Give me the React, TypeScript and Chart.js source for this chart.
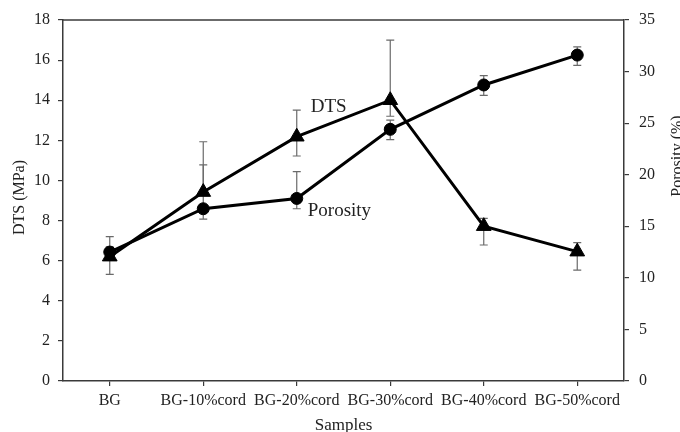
import React, { useEffect, useRef } from 'react';
import { Chart, registerables } from 'chart.js';
Chart.register(...registerables);

const categories = ['BG', 'BG-10%cord', 'BG-20%cord', 'BG-30%cord', 'BG-40%cord', 'BG-50%cord'];
const dtsValues = [6.2, 9.42, 12.18, 14.0, 7.72, 6.45];
const dtsLow = [5.32, 9.25, 11.22, 13.2, 6.78, 5.53];
const dtsHigh = [7.2, 11.93, 13.51, 17.0, 8.11, 6.9];
const porosityValues = [12.5, 16.7, 17.7, 24.4, 28.7, 31.6];
const porosityLow = [12.0, 15.7, 16.7, 23.4, 27.7, 30.6];
const porosityHigh = [13.0, 20.95, 20.3, 25.3, 29.6, 32.4];

const FONT = '"Liberation Serif", "Times New Roman", serif';
const AXIS = '#3a3a3a';
const TEXT = '#222222';
const ERR = '#6a6a6a';

export default function App() {
  const ref = useRef<HTMLCanvasElement>(null);
  useEffect(() => {
    if (!ref.current) return;
    const errs = [
      [dtsLow, dtsHigh, 'y'],
      [porosityLow, porosityHigh, 'y1'],
    ] as const;
    const errorBars = {
      id: 'errorBars',
      beforeDatasetsDraw(chart: any) {
        const ctx = chart.ctx;
        const xs = chart.scales.x;
        ctx.save();
        ctx.strokeStyle = ERR;
        ctx.lineWidth = 1.2;
        errs.forEach(([lo, hi, axis]) => {
          const ys = chart.scales[axis];
          categories.forEach((_, i) => {
            const x = xs.getPixelForValue(i);
            const y1 = ys.getPixelForValue(lo[i]);
            const y2 = ys.getPixelForValue(hi[i]);
            ctx.beginPath();
            ctx.moveTo(x, y1);
            ctx.lineTo(x, y2);
            ctx.moveTo(x - 4, y1);
            ctx.lineTo(x + 4, y1);
            ctx.moveTo(x - 4, y2);
            ctx.lineTo(x + 4, y2);
            ctx.stroke();
          });
        });
        ctx.restore();
      },
    };
    const decor = {
      id: 'decor',
      afterDraw(chart: any) {
        const ctx = chart.ctx;
        const a = chart.chartArea;
        const xs = chart.scales.x;
        ctx.save();
        // top frame line
        ctx.strokeStyle = AXIS;
        ctx.lineWidth = 1.5;
        ctx.beginPath();
        ctx.moveTo(a.left, a.top);
        ctx.lineTo(a.right, a.top);
        ctx.stroke();
        ctx.fillStyle = TEXT;
        // axis titles
        ctx.font = `16px ${FONT}`;
        ctx.textAlign = 'center';
        ctx.textBaseline = 'middle';
        ctx.save();
        ctx.translate(20, (a.top + a.bottom) / 2 - 3);
        ctx.rotate(-Math.PI / 2);
        ctx.fillText('DTS (MPa)', 0, 0);
        ctx.restore();
        ctx.save();
        ctx.translate(678, 156);
        ctx.rotate(-Math.PI / 2);
        ctx.fillText('Porosity (%)', 0, 0);
        ctx.restore();
        ctx.textBaseline = 'alphabetic';
        ctx.font = `17px ${FONT}`;
        ctx.fillText('Samples', (a.left + a.right) / 2, 430);
        // series annotations
        ctx.font = `19px ${FONT}`;
        ctx.textAlign = 'left';
        ctx.fillText('DTS', xs.getPixelForValue(2) + 14, a.top + 92);
        ctx.fillText('Porosity', xs.getPixelForValue(2) + 11, a.top + 196);
        ctx.restore();
      },
    };
    const chart = new Chart(ref.current, {
      type: 'line',
      data: {
        labels: categories,
        datasets: [
          {
            label: 'DTS',
            data: dtsValues,
            yAxisID: 'y',
            borderColor: '#000',
            backgroundColor: '#000',
            borderWidth: 3,
            pointStyle: 'triangle',
            pointRadius: 8.5,
            pointBorderWidth: 1,
            pointBackgroundColor: '#000',
            pointBorderColor: '#000',
            tension: 0,
          },
          {
            label: 'Porosity',
            data: porosityValues,
            yAxisID: 'y1',
            borderColor: '#000',
            backgroundColor: '#000',
            borderWidth: 3,
            pointStyle: 'circle',
            pointRadius: 6,
            pointBorderWidth: 1,
            pointBackgroundColor: '#000',
            pointBorderColor: '#000',
            tension: 0,
          },
        ],
      },
      options: {
        responsive: false,
        animation: false,
        devicePixelRatio: 1,
        layout: { padding: { top: 20, left: 0, right: 0, bottom: 0 } },
        plugins: { legend: { display: false }, tooltip: { enabled: false } },
        scales: {
          x: {
            type: 'category',
            offset: true,
            grid: { display: true, drawOnChartArea: false, drawTicks: true, tickLength: 5, color: AXIS, lineWidth: 1.2, offset: false },
            border: { display: true, color: AXIS, width: 1.5 },
            ticks: { color: TEXT, font: { family: FONT, size: 16 }, padding: 5, maxRotation: 0, autoSkip: false },
            afterFit: (s: any) => { s.height = 51; },
          },
          y: {
            position: 'left',
            min: 0,
            max: 18,
            ticks: { stepSize: 2, color: TEXT, font: { family: FONT, size: 16 }, padding: 8 },
            grid: { display: true, drawOnChartArea: false, drawTicks: true, tickLength: 5, color: AXIS, lineWidth: 1.2 },
            border: { display: true, color: AXIS, width: 1.5 },
            afterFit: (s: any) => { s.width = 63; },
          },
          y1: {
            position: 'right',
            min: 0,
            max: 35,
            ticks: { stepSize: 5, color: TEXT, font: { family: FONT, size: 16 }, padding: 10 },
            grid: { display: true, drawOnChartArea: false, drawTicks: true, tickLength: 5, color: AXIS, lineWidth: 1.2 },
            border: { display: true, color: AXIS, width: 1.5 },
            afterFit: (s: any) => { s.width = 56; },
          },
        },
      },
      plugins: [errorBars, decor],
    });
    return () => chart.destroy();
  }, []);
  return (
    <div style={{ position: 'fixed', left: 0, top: 0, width: 680, height: 432, background: '#fff' }}>
      <canvas ref={ref} width={680} height={432} style={{ display: 'block', width: 680, height: 432 }} />
    </div>
  );
}
